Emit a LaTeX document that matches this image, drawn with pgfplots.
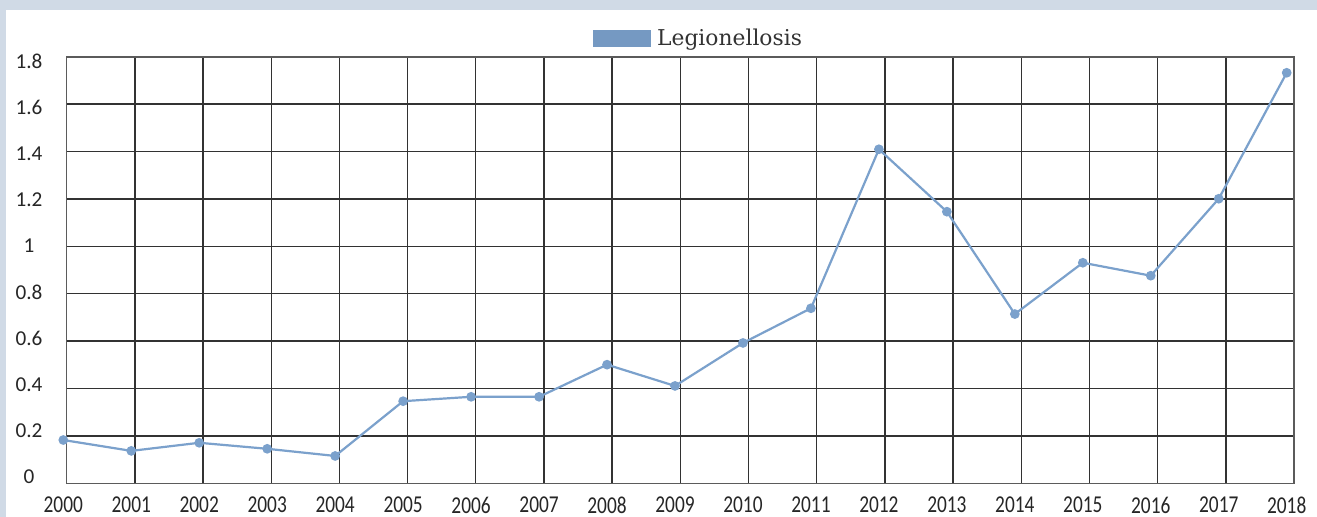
\documentclass[border=0pt]{standalone}
\usepackage{pgfplots}
\pgfplotsset{compat=1.18}
\usepackage{fontspec}
\setmainfont{Carlito}
\newfontfamily\legfont{DejaVu Serif}
\definecolor{lineblue}{RGB}{123,161,204}
\definecolor{bgblue}{RGB}{208,218,230}
\definecolor{gridc}{RGB}{50,50,50}
\begin{document}
\begin{tikzpicture}[x=1pt,y=1pt]
\fill[bgblue] (0,0) rectangle (658.5,258.5);
\fill[white] (3,0) rectangle (658.5,253.5);
% grid layer
\begin{axis}[at={(33.33pt,16.83pt)}, anchor=south west, scale only axis,
  width=613.67pt, height=213.3pt,
  xmin=2000, xmax=2018, ymin=0, ymax=1.8,
  xtick={2000,2001,2002,2003,2004,2005,2006,2007,2008,2009,2010,2011,2012,2013,2014,2015,2016,2017,2018},
  ytick={0,0.2,0.4,0.6,0.8,1,1.2,1.4,1.6,1.8},
  xticklabels={}, yticklabels={},
  major tick length=0pt,
  grid=major, major grid style={gridc, line width=0.7pt},
  axis line style={gridc!80!white, line width=0.8pt}]
\end{axis}
% data layer
\begin{axis}[at={(31.65pt,20pt)}, anchor=south west, scale only axis,
  width=611.7pt, height=208pt,
  xmin=2000, xmax=2018, ymin=0, ymax=1.8,
  axis line style={draw=none}, major tick length=0pt,
  /pgf/number format/assume math mode=true,
  xtick={2000,2001,2002,2003,2004,2005,2006,2007,2008,2009,2010,2011,2012,2013,2014,2015,2016,2017,2018},
  ytick={0,0.2,0.4,0.6,0.8,1,1.2,1.4,1.6,1.8},
  xticklabel={\scalebox{0.8}[1]{\pgfmathprintnumber[1000 sep={},fixed,precision=0]{\tick}}},
  xticklabel style={anchor=center, yshift=-14pt, font=\fontsize{12.1}{14}\selectfont, text=black!85},
  yticklabel style={anchor=center, xshift=-17.15pt, font=\fontsize{10.6}{12}\selectfont, text=black!85},
  legend style={at={(0.4327,1.0546)}, anchor=west, draw=none, fill=none,
    inner sep=0pt, outer sep=0pt, font=\legfont\fontsize{10.9}{12}\selectfont, text=black!80,
    /tikz/every odd column/.append style={column sep=1pt}},
  legend image code/.code={\fill[lineblue!95!black] (0pt,-3.675pt) rectangle (28.15pt,3.675pt);},
  clip=false]
\addplot[lineblue, line width=1.1pt, mark=*, mark size=1.85pt,
  mark options={fill=lineblue, draw=lineblue}] coordinates {
  (2000,0.16) (2001,0.113) (2002,0.148) (2003,0.122) (2004,0.091)
  (2005,0.328) (2006,0.347) (2007,0.347) (2008,0.486) (2009,0.394)
  (2010,0.58) (2011,0.73) (2012,1.418) (2013,1.148) (2014,0.705)
  (2015,0.927) (2016,0.871) (2017,1.204) (2018,1.749)};
\addlegendentry{Legionellosis}
\end{axis}
\pgfresetboundingbox
\useasboundingbox (0,0) rectangle (658.5,258.5);
\end{tikzpicture}
\end{document}
